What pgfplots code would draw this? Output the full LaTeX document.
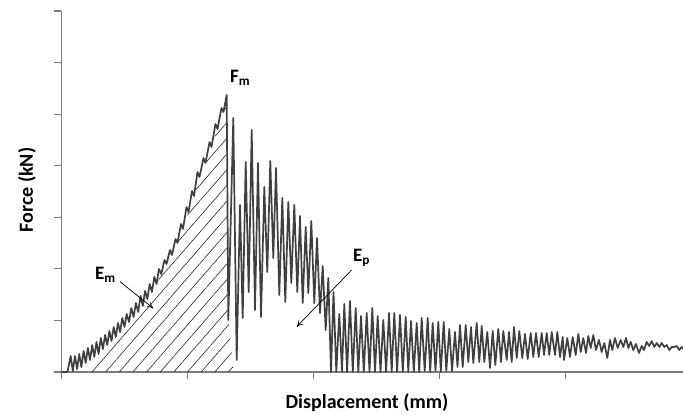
\documentclass[border=0pt]{standalone}
\usepackage{pgfplots}
\pgfplotsset{compat=1.18}
\usepackage{fontspec}
\setmainfont{Carlito}
\usetikzlibrary{patterns.meta,arrows.meta}
\definecolor{curve}{RGB}{64,64,64}
\definecolor{axisgray}{RGB}{125,125,125}
\begin{document}
\begin{tikzpicture}
\useasboundingbox (-61.5pt,-43pt) rectangle (621.5pt,372pt);
\begin{axis}[
  scale only axis, width=621.5pt, height=361pt,
  xmin=0, xmax=621.5, ymin=0, ymax=361,
  axis lines=left, axis line style={-, draw=axisgray, line width=1.3pt},
  xtick={0,126,252,378,504},
  ytick={0,51.57,103.14,154.71,206.29,257.86,309.43,361},
  xticklabels={}, yticklabels={},
  tick align=outside, major tick length=7pt,
  tick style={draw=axisgray, line width=1.1pt},
  clip=false,
  xlabel={\fontsize{20}{23}\selectfont\bfseries Displacement (mm)},
  ylabel={\fontsize{20}{23}\selectfont\bfseries Force (kN)},
  xlabel style={at={(axis description cs:0.4916,-0.0859)}, anchor=center},
  ylabel style={at={(axis description cs:-0.0555,0.504)}, anchor=center},
]
% hatched area (E_m)
\addplot[draw=none, pattern={Lines[angle=49,distance=10.3pt,line width=0.6pt]}, pattern color=black!85, forget plot] coordinates {
(27,0) (28.5,9) (32.8,14) (37.1,18) (41.4,23) (45.7,27) (50,31) (54.3,35) (58.6,40) (63,45) (67.5,50) (72.1,55) (76.7,60) (81.3,66) (85.9,73) (90.5,80) (95.1,88) (99.8,98) (105,108) (110.5,117) (116,129) (121.5,143) (127,160) (132.5,176) (138,195) (144,209) (150,225) (156,243) (162,260) (165.2,277) (166.8,52) (172,0)
};
% force-displacement curve
\addplot[curve, line width=1.7pt, line join=round, mark=none] coordinates {
(0,0) (6,0)
(9.2,16) (11.3,1) (13.5,16) (15.6,3) (17.8,18) (19.9,5) (22.1,21) (24.2,9)
(26.4,24) (28.5,12) (30.7,27) (32.8,15) (35.0,30) (37.1,18) (39.3,34) (41.4,23)
(43.6,37) (45.7,27) (47.9,41) (50.0,31) (52.2,45) (54.3,35) (56.5,49) (58.6,40)
(60.8,54) (63.0,45) (65.2,58) (67.5,50) (69.8,64) (72.1,55) (74.4,69) (76.7,60)
(79.0,76) (81.3,66) (83.6,81) (85.9,73) (88.2,88) (90.5,80) (92.8,95) (95.1,88)
(97.4,103) (99.8,98) (103,112) (105,108) (108.5,122) (110.5,117) (114,133) (116,129)
(119.5,148) (121.5,143) (125,165) (127,160) (130.5,181) (132.5,176) (136,200) (138,195)
(142,214) (144,209) (148,230) (150,225) (154,248) (156,243) (160,264) (162,260)
(165.2,277)
(166.8,52) (171.8,254) (175.2,12) (178.5,167) (181.2,54) (184.2,210) (187.2,80)
(190.2,242) (193.5,62) (196.5,209) (199.5,55) (202.8,185) (205.8,100) (208.8,211)
(211.8,114) (214.5,204) (217.8,77) (220.8,174) (223.8,70) (226.8,170) (229.8,89)
(232.8,167) (235.8,80) (238.5,156) (241.2,69) (244.2,145) (246.8,79) (249.8,151)
(252.8,69) (255.5,134) (258.5,59) (261.2,106) (264.2,42) (266.8,94) (269.5,0)
(272,80) (274.8,0) (277.8,58) (280.5,0) (282.8,68) (285.6,0) (288.5,71) (291.3,0)
(294.2,64) (296.8,0) (299.5,56) (302.3,0) (305.2,59) (308,0) (310.8,64) (313.5,0)
(316.2,56) (319,0) (321.8,52) (324.6,0) (327.5,59) (330.2,0) (332.8,59) (335.6,0)
(338.5,57) (341.3,0) (344.2,55) (346.8,0) (349.5,51) (352.3,0) (355.2,49) (357.7,0)
(360.2,54) (363.2,1) (366.2,54) (368.7,0) (371.2,49) (374,1) (376.8,50) (379.3,0)
(382.2,50) (384.8,1) (387.8,43) (390.5,1) (393.5,40) (396,5) (398.5,47) (401.2,5)
(404.2,47) (406.8,10) (409.5,45) (411.8,9) (415.2,49) (417.8,10) (420.2,46) (422.8,10)
(425.8,40) (428.5,4) (431.2,41) (433.8,7) (436.8,43) (439.5,10) (441.8,41) (445.2,12)
(447.5,40) (450.2,10) (452.5,45) (455.2,14) (457.8,41) (460.8,14) (463.5,38) (466.2,13)
(469.2,39) (471.8,15) (474.5,39) (477.2,15) (480.2,39) (482.5,17) (485.2,39) (487.8,17)
(490.2,40) (493.5,17) (495.8,40) (498.5,15) (501.2,35) (502.5,12)
(505.8,34) (508.5,15) (511.2,35) (514.2,17) (516.8,38) (519.2,20) (521.8,34) (524.5,19)
(526.8,36) (529.2,24) (531.8,37) (534.5,22) (537.5,32) (540.2,20) (542.8,29) (545.8,14)
(548.5,32) (550.8,22) (553.5,34) (556.2,24) (559.2,32) (561.8,25) (564.5,34) (566.8,24)
(569.2,30) (571.8,22) (574.5,28) (577.5,19) (580.2,26) (582.5,22) (585.2,30) (587.8,26)
(590.2,31) (592.8,25) (595.2,29) (597.8,25) (600.2,29) (602.8,25) (605.2,27) (607.8,22)
(610.2,25) (612.8,25) (615.2,26) (617.8,22) (620.2,25) (621.5,23)
};
% annotations
\draw[-{To[length=6pt,width=6pt]}, line width=0.7pt, black] (axis cs:58.5,90.3) -- (axis cs:91.8,63.7);
\draw[-{To[length=6pt,width=6pt]}, line width=0.7pt, black] (axis cs:290.2,102) -- (axis cs:235.2,45.3);
\node[anchor=base west, inner sep=0pt, font=\fontsize{19}{22}\selectfont\bfseries] at (axis cs:168.5,289) {F\textsubscript{m}};
\node[anchor=base west, inner sep=0pt, font=\fontsize{19}{22}\selectfont\bfseries] at (axis cs:33.5,92) {E\textsubscript{m}};
\node[anchor=base west, inner sep=0pt, font=\fontsize{19}{22}\selectfont\bfseries] at (axis cs:291.5,110) {E\textsubscript{p}};
\end{axis}
\end{tikzpicture}
\end{document}
